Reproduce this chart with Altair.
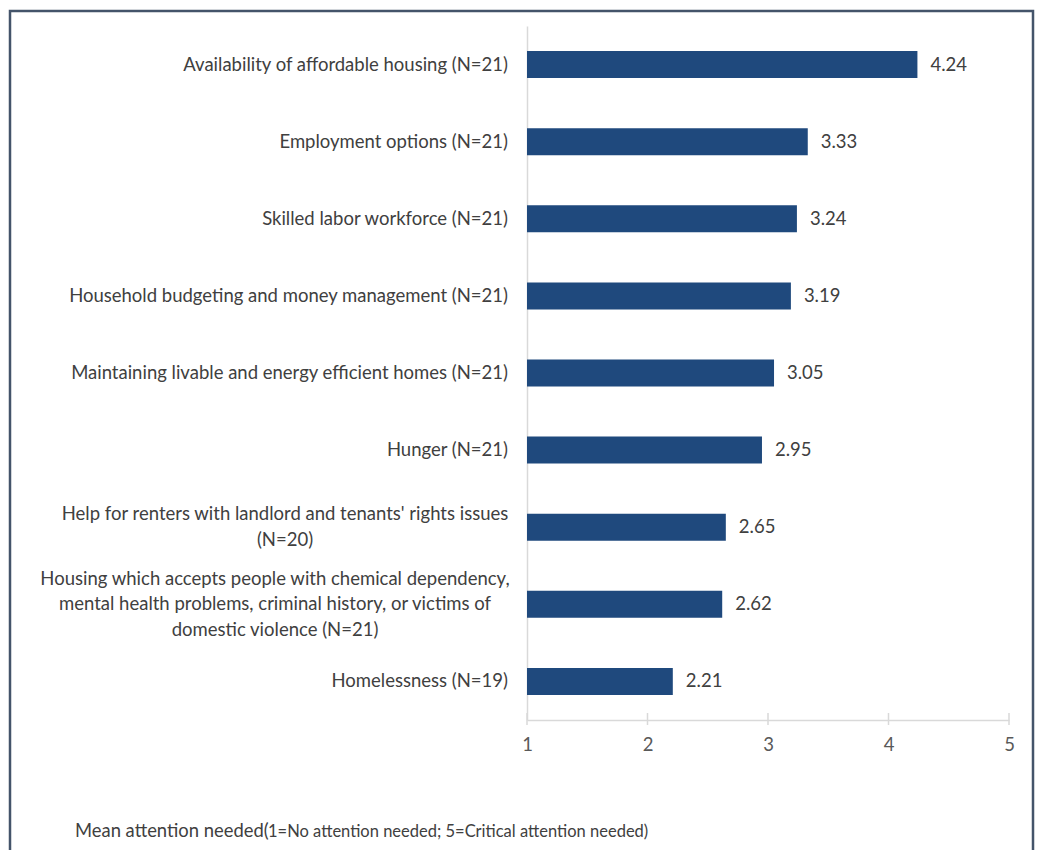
import altair as alt
import pandas as pd

categories = [
    "Availability of affordable housing (N=21)",
    "Employment options (N=21)",
    "Skilled labor workforce (N=21)",
    "Household budgeting and money management (N=21)",
    "Maintaining livable and energy efficient homes (N=21)",
    "Hunger (N=21)",
    "Help for renters with landlord and tenants' rights issues (N=20)",
    "Housing which accepts people with chemical dependency, mental health problems, criminal history, or victims of domestic violence (N=21)",
    "Homelessness (N=19)",
]
values = [4.24, 3.33, 3.24, 3.19, 3.05, 2.95, 2.65, 2.62, 2.21]
x_ticks = [1, 2, 3, 4, 5]

wrapped = {
    categories[6]: ["Help for renters with landlord and tenants' rights issues", "(N=20)"],
    categories[7]: ["Housing which accepts people with chemical dependency,",
                    "mental health problems, criminal history, or victims of",
                    "domestic violence (N=21)"],
}
wrap_center = {categories[6]: -242, categories[7]: -252}

FONT = "Lato"
FS = 18.5
LH = 25.5
TXT = "#404040"
BAR = "#1F497D"

df = pd.DataFrame({"cat": categories, "val": values})
df["label"] = df["val"].map(lambda v: f"{v:.2f}")

yscale = alt.Scale(domain=categories, paddingInner=0.65, paddingOuter=0.325)
xscale = alt.Scale(domain=[1, 5], nice=False, zero=False)

base = alt.Chart(df)

bars = base.mark_bar(color=BAR).encode(
    x=alt.X("val:Q", scale=xscale,
            axis=alt.Axis(values=x_ticks, title=None, ticks=False, grid=False,
                          domainColor="#D9D9D9", domainWidth=1.5, labelFlush=False,
                          labelFont=FONT, labelFontSize=FS, labelColor="#595959",
                          labelPadding=15, format="d")),
    x2=alt.datum(1),
    y=alt.Y("cat:N", scale=yscale, sort=categories,
            axis=alt.Axis(title=None, labels=False, ticks=False, grid=False,
                          domainColor="#D9D9D9", domainWidth=1.5)),
)

vals_text = base.mark_text(align="left", baseline="middle", dx=13, font=FONT,
                           fontSize=FS, color=TXT).encode(
    x=alt.X("val:Q", scale=xscale),
    y=alt.Y("cat:N", scale=yscale, sort=categories),
    text="label:N",
)

single = base.transform_filter(
    alt.FieldOneOfPredicate(field="cat", oneOf=[c for c in categories if c not in wrapped])
).mark_text(align="right", baseline="middle", font=FONT, fontSize=FS, color=TXT).encode(
    x=alt.value(-19),
    y=alt.Y("cat:N", scale=yscale, sort=categories),
    text="cat:N",
)

layers = [bars, vals_text, single]
for c, lines in wrapped.items():
    d = pd.DataFrame({"cat": [c], "lines": [lines]})
    layers.append(
        alt.Chart(d).mark_text(align="center", baseline="middle", font=FONT, fontSize=FS,
                               color=TXT, lineHeight=LH,
                               dy=-(len(lines) - 1) * LH / 2).encode(
            x=alt.value(wrap_center[c]),
            y=alt.Y("cat:N", scale=yscale, sort=categories),
            text="lines",
        )
    )

tick_df = pd.DataFrame({"t": x_ticks})
ticks = alt.Chart(tick_df).mark_rule(color="#D9D9D9", strokeWidth=1.5).encode(
    x=alt.X("t:Q", scale=xscale),
    y=alt.value(687),
    y2=alt.value(699),
)
layers.append(ticks)

frame = alt.Chart(pd.DataFrame({"a": [0]})).mark_rect(
    fill=None, stroke="#44546A", strokeWidth=2.5
).encode(x=alt.value(-517), x2=alt.value(506), y=alt.value(-15), y2=alt.value(880))
layers.append(frame)

title1 = alt.Chart(pd.DataFrame({"t": ["Mean attention needed("]})).mark_text(
    align="left", baseline="alphabetic", font=FONT, fontSize=18.4, color=TXT
).encode(x=alt.value(-452), y=alt.value(811), text="t:N")
title2 = alt.Chart(pd.DataFrame({"t": ["1=No attention needed; 5=Critical attention needed)"]})).mark_text(
    align="left", baseline="alphabetic", font=FONT, fontSize=16.5, color=TXT
).encode(x=alt.value(-259), y=alt.value(811), text="t:N")
layers += [title1, title2]

chart = alt.layer(*layers).properties(
    width=482, height=694,
    autosize=alt.AutoSizeParams(type="none"),
    padding={"left": 519, "top": 18, "right": 26, "bottom": 170},
).configure_view(stroke=None)

chart.save("out.html", embed_options={"renderer": "svg", "actions": False})
